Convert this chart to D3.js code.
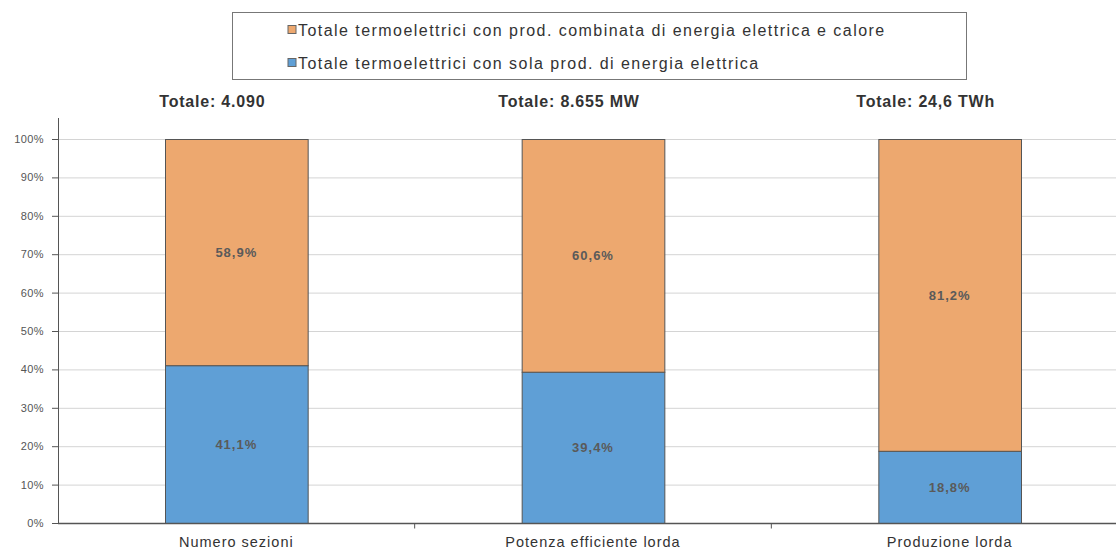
<!DOCTYPE html>
<html>
<head>
<meta charset="utf-8">
<script src="https://cdn.jsdelivr.net/npm/d3@7"></script>
<style>
  body { margin: 0; background: #fff; }
  svg { font-family: "Liberation Sans", Arial, sans-serif; }
  .grid line { stroke: #d4d4d4; }
  .axis path, .axis line { stroke: #555; }
</style>
</head>
<body>
<div id="chart"></div>
<script>
// data
var categories = ["Numero sezioni", "Potenza efficiente lorda", "Produzione lorda"];
var totals = ["Totale: 4.090", "Totale: 8.655 MW", "Totale: 24,6 TWh"];
var solaElettrica = [41.1, 39.4, 18.8];
var combinata = [58.9, 60.6, 81.2];
var seriesNames = [
  "Totale termoelettrici con prod. combinata di energia elettrica e calore",
  "Totale termoelettrici con sola prod. di energia elettrica"
];
var yTicks = [0, 10, 20, 30, 40, 50, 60, 70, 80, 90, 100];

var width = 1116, height = 551;
var margin = {left: 58, top: 139, bottom: 28};
var plotBottom = height - margin.bottom;

var svg = d3.select("#chart").append("svg")
  .attr("width", width)
  .attr("height", height);

var x = d3.scaleBand()
  .domain(categories)
  .range([margin.left, 1128])
  .paddingInner(0.6)
  .paddingOuter(0.3);

var y = d3.scaleLinear()
  .domain([0, 100])
  .range([plotBottom, margin.top]);

// gridlines
svg.append("g")
  .attr("class", "grid")
  .selectAll("line").data(yTicks.slice(1)).enter().append("line")
  .attr("x1", margin.left)
  .attr("x2", 1128)
  .attr("y1", d => y(d) + 0.5)
  .attr("y2", d => y(d) + 0.5);

// stacked data
var rows = categories.map(function(c, i) {
  return {cat: c, sola: solaElettrica[i], comb: combinata[i]};
});
var stack = d3.stack().keys(["sola", "comb"])(rows);
var colors = {sola: "#5f9fd6", comb: "#eda86f"};

var layers = svg.append("g").selectAll("g").data(stack).enter().append("g")
  .attr("fill", d => colors[d.key]);

layers.selectAll("rect").data(d => d).enter().append("rect")
  .attr("x", d => x(d.data.cat) + 0.5)
  .attr("width", x.bandwidth())
  .attr("y", d => y(d[1]) + 0.5)
  .attr("height", d => y(d[0]) - y(d[1]))
  .attr("stroke", "#555")
  .attr("stroke-width", 1);

// value labels
layers.selectAll("text").data(d => d).enter().append("text")
  .attr("x", d => x(d.data.cat) + x.bandwidth() / 2)
  .attr("y", d => (y(d[0]) + y(d[1])) / 2 + 5)
  .attr("text-anchor", "middle")
  .attr("font-size", "13px")
  .attr("letter-spacing", "1px")
  .attr("font-weight", "bold")
  .attr("fill", "#5a5a5a")
  .text(d => d3.format(".1f")(d[1] - d[0]).replace(".", ",") + "%");

// y axis
svg.append("g")
  .attr("class", "axis")
  .attr("transform", "translate(" + margin.left + ",0)")
  .call(d3.axisLeft(y).tickValues(yTicks).tickSize(6).tickFormat(d => d + "%"))
  .call(g => g.select(".domain").attr("d", "M0.5," + (margin.top - 21) + "V" + (plotBottom + 0.5)))
  .call(g => g.selectAll("text")
    .attr("font-size", "11px")
    .attr("letter-spacing", "0.4px")
    .attr("fill", "#555")
    .attr("x", -14));

// x axis
var xAxis = svg.append("g")
  .attr("class", "axis")
  .attr("transform", "translate(0," + (plotBottom + 0.5) + ")");
xAxis.append("line")
  .attr("x1", margin.left).attr("x2", width)
  .attr("stroke", "#555").attr("stroke-width", 1.5);
xAxis.selectAll(".sep").data(categories.slice(1)).enter().append("line")
  .attr("class", "sep")
  .attr("x1", d => x(d) - x.step() * x.paddingInner() / 2)
  .attr("x2", d => x(d) - x.step() * x.paddingInner() / 2)
  .attr("y1", 0).attr("y2", 5);
xAxis.selectAll("text").data(categories).enter().append("text")
  .attr("x", d => x(d) + x.bandwidth() / 2)
  .attr("y", 23)
  .attr("text-anchor", "middle")
  .attr("font-size", "14.5px")
  .attr("letter-spacing", "1px")
  .attr("fill", "#333")
  .text(d => d);

// totals above bars
svg.append("g").selectAll("text").data(categories).enter().append("text")
  .attr("x", d => x(d) + x.bandwidth() / 2 - 24)
  .attr("y", 107)
  .attr("text-anchor", "middle")
  .attr("font-size", "16px")
  .attr("letter-spacing", "0.8px")
  .attr("font-weight", "bold")
  .attr("fill", "#333")
  .text((d, i) => totals[i]);

// legend
var legend = svg.append("g");
legend.append("rect")
  .attr("x", 232.5).attr("y", 12.5)
  .attr("width", 734).attr("height", 67)
  .attr("fill", "#fff").attr("stroke", "#777");
var legendColors = [colors.comb, colors.sola];
var li = legend.selectAll("g").data(seriesNames).enter().append("g")
  .attr("transform", (d, i) => "translate(288," + (30 + i * 33) + ")");
li.append("rect")
  .attr("x", 0).attr("y", -4.5)
  .attr("width", 8).attr("height", 8)
  .attr("fill", (d, i) => legendColors[i])
  .attr("stroke", "#666");
li.append("text")
  .attr("x", 10).attr("y", 6)
  .attr("font-size", "16px")
  .attr("letter-spacing", "1.45px")
  .attr("fill", "#333")
  .text(d => d);
</script>
</body>
</html>
